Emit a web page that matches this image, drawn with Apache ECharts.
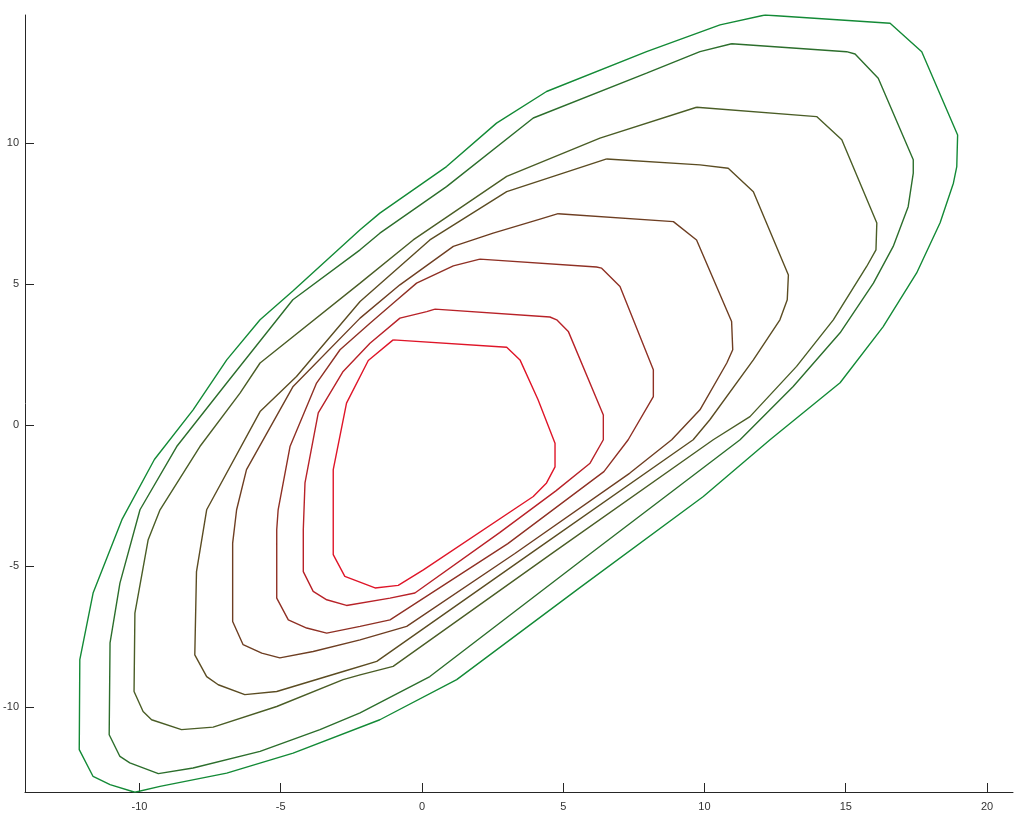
<!DOCTYPE html>
<html>
<head>
<meta charset="utf-8">
<title>contour</title>
<script src="https://cdn.jsdelivr.net/npm/echarts@6/dist/echarts.min.js"></script>
<style>
  html, body { margin: 0; padding: 0; background: #fff; }
  #contourChart { width: 1033px; height: 834px; }
</style>
</head>
<body>
<div id="contourChart"></div>
<script>
  // tick labels
  var xTicks = [-10, -5, 0, 5, 10, 15, 20];
  var yTicks = [-10, -5, 0, 5, 10];

  // contour levels, outermost (green) to innermost (red)
  var contour1 = [[12.14, 14.53], [16.57, 14.24], [17.69, 13.23], [18.96, 10.28], [18.93, 9.16], [18.81, 8.57],
    [18.34, 7.17], [17.51, 5.39], [16.32, 3.48], [14.80, 1.50], [12.32, -0.52], [9.96, -2.53], [5.59, -5.76],
    [1.23, -9.02], [-1.49, -10.44], [-4.56, -11.62], [-6.91, -12.33], [-9.27, -12.80], [-10.16, -13.01],
    [-11.04, -12.74], [-11.64, -12.45], [-12.13, -11.50], [-12.11, -8.31], [-11.64, -5.95], [-10.62, -3.35],
    [-9.47, -1.22], [-8.10, 0.54], [-6.91, 2.31], [-5.73, 3.73], [-4.56, 4.76], [-2.19, 6.92], [-1.49, 7.51],
    [0.87, 9.16], [2.64, 10.70], [4.41, 11.82], [7.95, 13.23], [10.55, 14.18], [12.14, 14.53]];
  var contour2 = [[10.96, 13.51], [15.03, 13.23], [15.33, 13.15], [16.15, 12.29], [17.39, 9.40], [17.39, 8.93],
    [17.21, 7.74], [16.68, 6.33], [15.98, 5.03], [14.80, 3.27], [13.14, 1.37], [11.26, -0.52], [5.77, -4.70],
    [0.28, -8.91], [-2.19, -10.20], [-3.61, -10.79], [-5.73, -11.56], [-8.10, -12.15], [-9.33, -12.35],
    [-10.34, -11.97], [-10.69, -11.74], [-11.07, -10.97], [-11.04, -7.72], [-10.69, -5.60], [-9.98, -3.00],
    [-8.68, -0.76], [-6.91, 1.49], [-4.57, 4.44], [-2.19, 6.21], [-1.49, 6.80], [0.87, 8.45], [3.94, 10.88],
    [7.95, 12.47], [9.84, 13.23], [10.96, 13.51]];
  var contour3 = [[9.72, 11.26], [13.97, 10.93], [14.86, 10.11], [16.10, 7.16], [16.07, 6.21], [15.74, 5.62],
    [14.56, 3.73], [13.26, 2.08], [11.61, 0.30], [10.31, -0.52], [4.64, -4.52], [-1.02, -8.55], [-2.19, -8.85],
    [-2.79, -9.02], [-5.14, -9.97], [-7.39, -10.70], [-8.51, -10.79], [-9.57, -10.44], [-9.87, -10.15],
    [-10.19, -9.44], [-10.16, -6.66], [-9.69, -4.06], [-9.27, -3.00], [-7.86, -0.76], [-6.44, 1.13],
    [-5.73, 2.20], [-2.19, 5.03], [-0.31, 6.56], [3.00, 8.81], [6.30, 10.17], [9.72, 11.26]];
  var contour4 = [[6.54, 9.43], [9.84, 9.22], [10.84, 9.10], [11.73, 8.27], [12.97, 5.32], [12.93, 4.44],
    [12.67, 3.73], [11.73, 2.31], [10.19, 0.19], [9.60, -0.52], [4.00, -4.44], [-1.60, -8.37], [-2.79, -8.73],
    [-5.14, -9.44], [-6.27, -9.55], [-7.21, -9.20], [-7.62, -8.91], [-8.04, -8.14], [-7.98, -5.19],
    [-7.62, -3.00], [-5.73, 0.48], [-4.44, 1.72], [-2.19, 4.38], [0.28, 6.56], [3.00, 8.27], [6.54, 9.43]];
  var contour5 = [[4.82, 7.49], [8.90, 7.21], [9.72, 6.56], [10.96, 3.67], [11.00, 2.67], [10.79, 2.20],
    [9.84, 0.54], [8.84, -0.52], [7.36, -1.70], [3.29, -4.55], [-0.54, -7.13], [-2.19, -7.61], [-3.85, -8.02],
    [-5.03, -8.25], [-5.67, -8.08], [-6.33, -7.78], [-6.70, -6.96], [-6.70, -4.18], [-6.56, -3.00], [-6.21, -1.58],
    [-4.56, 1.37], [-2.19, 3.79], [-0.78, 4.97], [1.11, 6.33], [2.52, 6.80], [4.18, 7.30], [4.82, 7.49]];
  var contour6 = [[2.05, 5.88], [6.18, 5.60], [6.36, 5.56], [7.01, 4.91], [8.19, 1.96], [8.19, 1.01],
    [7.30, -0.52], [6.44, -1.65], [3.04, -4.20], [-1.13, -6.90], [-2.19, -7.13], [-3.37, -7.37], [-4.08, -7.19],
    [-4.73, -6.90], [-5.14, -6.13], [-5.14, -3.71], [-5.09, -3.00], [-4.67, -0.76], [-3.73, 1.49], [-2.90, 2.67],
    [-1.84, 3.61], [-1.02, 4.32], [-0.19, 5.03], [1.11, 5.64], [2.05, 5.88]];
  var contour7 = [[0.46, 4.11], [4.53, 3.83], [4.77, 3.73], [5.18, 3.32], [6.42, 0.36], [6.42, -0.52],
    [5.95, -1.35], [4.74, -2.33], [2.75, -3.81], [-0.25, -5.95], [-1.13, -6.13], [-2.67, -6.39], [-3.37, -6.19],
    [-3.85, -5.89], [-4.20, -5.19], [-4.20, -3.71], [-4.14, -2.05], [-3.67, 0.43], [-2.79, 1.90], [-1.84, 2.90],
    [-0.78, 3.79], [0.17, 4.02], [0.46, 4.11]];
  var contour8 = [[-1.02, 3.02], [3.00, 2.76], [3.47, 2.31], [4.11, 0.90], [4.71, -0.64], [4.71, -1.48],
    [4.41, -2.05], [3.94, -2.53], [0.05, -5.13], [-0.84, -5.68], [-1.66, -5.77], [-2.73, -5.36], [-3.14, -4.59],
    [-3.14, -1.58], [-2.67, 0.78], [-1.90, 2.29], [-1.02, 3.02]];

  var contours = [contour1, contour2, contour3, contour4, contour5, contour6, contour7, contour8];
  var levelColors = ['#138a36', '#2c6e2c', '#4a5d26', '#5b4c22', '#6e3e22', '#8f3024', '#b82228', '#df1528'];

  var axisText = { color: '#333333', fontSize: 11, fontFamily: 'Liberation Sans, Arial, sans-serif' };

  var option = {
    animation: false,
    backgroundColor: '#ffffff',
    grid: { left: 25, right: 20, top: 15, bottom: 42 },
    xAxis: {
      type: 'value',
      min: -14.05,
      max: 20.92,
      axisLine: { show: true, onZero: false, lineStyle: { color: '#262626', width: 1 } },
      axisTick: { show: true, inside: true, length: 9, customValues: xTicks, lineStyle: { color: '#262626' } },
      axisLabel: Object.assign({ margin: 9, customValues: xTicks }, axisText),
      splitLine: { show: false }
    },
    yAxis: {
      type: 'value',
      min: -13.0,
      max: 14.53,
      axisLine: { show: true, onZero: false, lineStyle: { color: '#262626', width: 1 } },
      axisTick: { show: true, inside: true, length: 9, customValues: yTicks, lineStyle: { color: '#262626' } },
      axisLabel: Object.assign({ margin: 6, customValues: yTicks }, axisText),
      splitLine: { show: false }
    },
    series: contours.map(function (pts, i) {
      return {
        type: 'line',
        data: pts,
        showSymbol: false,
        symbol: 'none',
        smooth: false,
        silent: true,
        lineStyle: { color: levelColors[i], width: 1.4 }
      };
    })
  };

  var chart = echarts.init(document.getElementById('contourChart'), null, { renderer: 'canvas' });
  chart.setOption(option, true);
</script>
</body>
</html>
